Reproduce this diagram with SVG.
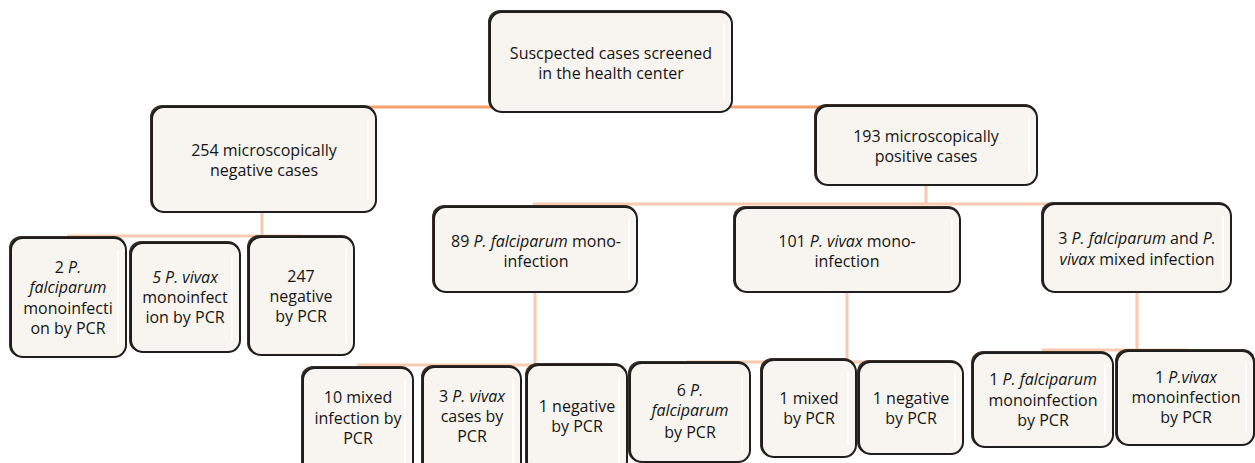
<svg xmlns="http://www.w3.org/2000/svg" width="1255" height="463" viewBox="0 0 1255 463">
<defs>
<style>
.sh{fill:#3a2e25;stroke:none}
.bx{fill:#F8F4F0;stroke:#1e1e1e;stroke-width:2}
.hl{stroke:#ffffff;stroke-width:2;opacity:0.9}
.t{font-family:"Open Sans","Noto Sans",sans-serif;font-size:16px;fill:#141414;text-anchor:middle}
.c1{stroke:#F5A26E;stroke-width:3;fill:none}
.c2{stroke:#FAC9B0;stroke-width:3;fill:none}
</style>
</defs>
<rect width="1255" height="463" fill="#ffffff"/>
<g id="connectors">
<polyline class="c1" points="262,212 262,107 925,107 925,185"/>
<line class="c2" x1="262" y1="212" x2="262" y2="236"/>
<line class="c2" x1="67" y1="236" x2="302" y2="236"/>
<line class="c2" x1="926" y1="185" x2="926" y2="204"/>
<line class="c2" x1="533" y1="204" x2="1137" y2="204"/>
<line class="c2" x1="535" y1="292" x2="535" y2="365"/>
<line class="c2" x1="357" y1="365" x2="578" y2="365"/>
<line class="c2" x1="847" y1="292" x2="847" y2="362"/>
<line class="c2" x1="687" y1="362" x2="910" y2="362"/>
<line class="c2" x1="1137" y1="292" x2="1137" y2="350"/>
<line class="c2" x1="1042" y1="350" x2="1188" y2="350"/>
</g>
<g id="n-top">
<rect class="sh" x="488" y="10" width="244" height="102" rx="12"/>
<rect class="bx" x="490" y="12" width="242" height="100" rx="12"/>
<line class="hl" x1="724" y1="24" x2="724" y2="100"/>
<text class="t" x="611" y="59">Suscpected cases screened</text>
<text class="t" x="611" y="79">in the health center</text>
</g>
<g id="n-neg">
<rect class="sh" x="150" y="105" width="226" height="107" rx="12"/>
<rect class="bx" x="152" y="107" width="224" height="105" rx="12"/>
<line class="hl" x1="368" y1="119" x2="368" y2="200"/>
<text class="t" x="264" y="156">254 microscopically</text>
<text class="t" x="264" y="176">negative cases</text>
</g>
<g id="n-pos">
<rect class="sh" x="814" y="104" width="223" height="81" rx="12"/>
<rect class="bx" x="816" y="106" width="221" height="79" rx="12"/>
<line class="hl" x1="1029" y1="118" x2="1029" y2="173"/>
<text class="t" x="926" y="142">193 microscopically</text>
<text class="t" x="926" y="162">positive cases</text>
</g>
<g id="n-pf">
<rect class="sh" x="432" y="205" width="205" height="87" rx="12"/>
<rect class="bx" x="434" y="207" width="203" height="85" rx="12"/>
<line class="hl" x1="629" y1="219" x2="629" y2="280"/>
<text class="t" x="536" y="247">89 <tspan font-style="italic">P. falciparum</tspan> mono-</text>
<text class="t" x="536" y="267">infection</text>
</g>
<g id="n-pv">
<rect class="sh" x="733" y="206" width="227" height="86" rx="12"/>
<rect class="bx" x="735" y="208" width="225" height="84" rx="12"/>
<line class="hl" x1="952" y1="220" x2="952" y2="280"/>
<text class="t" x="847" y="247">101 <tspan font-style="italic">P. vivax</tspan> mono-</text>
<text class="t" x="847" y="267">infection</text>
</g>
<g id="n-mix">
<rect class="sh" x="1041" y="202" width="190" height="90" rx="12"/>
<rect class="bx" x="1043" y="204" width="188" height="88" rx="12"/>
<line class="hl" x1="1223" y1="216" x2="1223" y2="280"/>
<text class="t" x="1137" y="244">3 <tspan font-style="italic">P. falciparum</tspan> and <tspan font-style="italic">P.</tspan></text>
<text class="t" x="1137" y="265"><tspan font-style="italic">vivax</tspan> mixed infection</text>
</g>
<g id="n-a">
<rect class="sh" x="9" y="236" width="117" height="121" rx="12"/>
<rect class="bx" x="11" y="238" width="115" height="119" rx="12"/>
<line class="hl" x1="118" y1="250" x2="118" y2="345"/>
<text class="t" x="68" y="273">2 <tspan font-style="italic">P.</tspan></text>
<text class="t" x="68" y="293" font-style="italic">falciparum</text>
<text class="t" x="68" y="314">monoinfecti</text>
<text class="t" x="68" y="334">on by PCR</text>
</g>
<g id="n-b">
<rect class="sh" x="129" y="241" width="111" height="111" rx="12"/>
<rect class="bx" x="131" y="243" width="109" height="109" rx="12"/>
<line class="hl" x1="232" y1="255" x2="232" y2="340"/>
<text class="t" x="185" y="283" font-style="italic">5 P. vivax</text>
<text class="t" x="185" y="303">monoinfect</text>
<text class="t" x="185" y="323">ion by PCR</text>
</g>
<g id="n-c">
<rect class="sh" x="247" y="235" width="107" height="120" rx="12"/>
<rect class="bx" x="249" y="237" width="105" height="118" rx="12"/>
<line class="hl" x1="346" y1="249" x2="346" y2="343"/>
<text class="t" x="301" y="282">247</text>
<text class="t" x="301" y="302">negative</text>
<text class="t" x="301" y="322">by PCR</text>
</g>
<g id="n-d">
<rect class="sh" x="301" y="366" width="112" height="110" rx="12"/>
<rect class="bx" x="303" y="368" width="110" height="108" rx="12"/>
<line class="hl" x1="405" y1="380" x2="405" y2="470"/>
<text class="t" x="358" y="403">10 mixed</text>
<text class="t" x="358" y="424">infection by</text>
<text class="t" x="358" y="444">PCR</text>
</g>
<g id="n-e">
<rect class="sh" x="421" y="365" width="100" height="110" rx="12"/>
<rect class="bx" x="423" y="367" width="98" height="108" rx="12"/>
<line class="hl" x1="513" y1="379" x2="513" y2="470"/>
<text class="t" x="472" y="402">3 <tspan font-style="italic">P. vivax</tspan></text>
<text class="t" x="472" y="422">cases by</text>
<text class="t" x="472" y="442">PCR</text>
</g>
<g id="n-f">
<rect class="sh" x="525" y="363" width="102" height="110" rx="12"/>
<rect class="bx" x="527" y="365" width="100" height="108" rx="12"/>
<line class="hl" x1="619" y1="377" x2="619" y2="470"/>
<text class="t" x="577" y="412">1 negative</text>
<text class="t" x="577" y="432">by PCR</text>
</g>
<g id="n-g">
<rect class="sh" x="628" y="361" width="122" height="101" rx="12"/>
<rect class="bx" x="630" y="363" width="120" height="99" rx="12"/>
<line class="hl" x1="742" y1="375" x2="742" y2="450"/>
<text class="t" x="690" y="396">6 <tspan font-style="italic">P.</tspan></text>
<text class="t" x="690" y="416" font-style="italic">falciparum</text>
<text class="t" x="690" y="438">by PCR</text>
</g>
<g id="n-h">
<rect class="sh" x="760" y="358" width="96" height="99" rx="12"/>
<rect class="bx" x="762" y="360" width="94" height="97" rx="12"/>
<line class="hl" x1="848" y1="372" x2="848" y2="445"/>
<text class="t" x="809" y="404">1 mixed</text>
<text class="t" x="809" y="424">by PCR</text>
</g>
<g id="n-i">
<rect class="sh" x="857" y="360" width="106" height="94" rx="12"/>
<rect class="bx" x="859" y="362" width="104" height="92" rx="12"/>
<line class="hl" x1="955" y1="374" x2="955" y2="442"/>
<text class="t" x="911" y="404">1 negative</text>
<text class="t" x="911" y="424">by PCR</text>
</g>
<g id="n-j">
<rect class="sh" x="971" y="351" width="142" height="96" rx="12"/>
<rect class="bx" x="973" y="353" width="140" height="94" rx="12"/>
<line class="hl" x1="1105" y1="365" x2="1105" y2="435"/>
<text class="t" x="1043" y="385">1 <tspan font-style="italic">P. falciparum</tspan></text>
<text class="t" x="1043" y="406">monoinfection</text>
<text class="t" x="1043" y="426">by PCR</text>
</g>
<g id="n-k">
<rect class="sh" x="1115" y="349" width="140" height="96" rx="12"/>
<rect class="bx" x="1117" y="351" width="137" height="94" rx="12"/>
<line class="hl" x1="1246" y1="363" x2="1246" y2="433"/>
<text class="t" x="1186" y="383">1 <tspan font-style="italic">P.vivax</tspan></text>
<text class="t" x="1186" y="403">monoinfection</text>
<text class="t" x="1186" y="423">by PCR</text>
</g>
</svg>
